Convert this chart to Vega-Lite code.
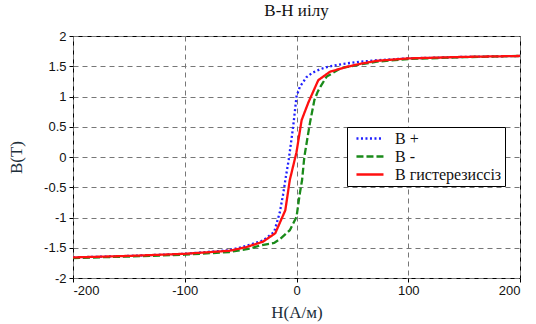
{
  "$schema": "https://vega.github.io/schema/vega-lite/v6.json",
  "width": 447,
  "height": 242,
  "autosize": "none",
  "padding": {"left": 73, "top": 36, "right": 16, "bottom": 46},
  "background": "white",
  "title": {"text": "B-H иілу", "font": "Liberation Serif", "fontSize": 17, "fontWeight": "normal", "color": "#111", "offset": 10},
  "config": {
    "view": {"stroke": "#000", "strokeWidth": 1},
    "axis": {
      "labelFont": "Liberation Sans", "labelFontSize": 13, "labelColor": "#111",
      "titleFont": "Liberation Serif", "titleFontSize": 17, "titleFontWeight": "normal", "titleColor": "#1c2e3a",
      "gridColor": "#777", "gridDash": [5, 4], "gridWidth": 1, "gridOpacity": 1,
      "domain": false, "tickColor": "#000", "tickSize": 4
    }
  },
  "data": {"values": [
    {"s": "B +", "H": -200, "B": -1.66},
    {"s": "B +", "H": -150, "B": -1.635},
    {"s": "B +", "H": -100, "B": -1.6},
    {"s": "B +", "H": -60, "B": -1.54},
    {"s": "B +", "H": -45, "B": -1.47},
    {"s": "B +", "H": -30, "B": -1.38},
    {"s": "B +", "H": -20, "B": -1.24},
    {"s": "B +", "H": -15, "B": -0.92},
    {"s": "B +", "H": -12, "B": -0.62},
    {"s": "B +", "H": -10, "B": -0.38},
    {"s": "B +", "H": -7, "B": -0.05},
    {"s": "B +", "H": -3, "B": 0.5},
    {"s": "B +", "H": 0, "B": 1.0},
    {"s": "B +", "H": 3, "B": 1.16},
    {"s": "B +", "H": 9, "B": 1.32},
    {"s": "B +", "H": 14, "B": 1.39},
    {"s": "B +", "H": 21, "B": 1.45},
    {"s": "B +", "H": 28, "B": 1.49},
    {"s": "B +", "H": 36, "B": 1.52},
    {"s": "B +", "H": 42, "B": 1.54},
    {"s": "B +", "H": 57, "B": 1.575},
    {"s": "B +", "H": 72, "B": 1.6},
    {"s": "B +", "H": 100, "B": 1.63},
    {"s": "B +", "H": 150, "B": 1.655},
    {"s": "B +", "H": 200, "B": 1.67},
    {"s": "B -", "H": -200, "B": -1.67},
    {"s": "B -", "H": -150, "B": -1.645},
    {"s": "B -", "H": -100, "B": -1.615},
    {"s": "B -", "H": -60, "B": -1.57},
    {"s": "B -", "H": -42, "B": -1.515},
    {"s": "B -", "H": -33, "B": -1.465},
    {"s": "B -", "H": -20, "B": -1.42},
    {"s": "B -", "H": -15, "B": -1.36},
    {"s": "B -", "H": -6, "B": -1.21},
    {"s": "B -", "H": 0, "B": -0.99},
    {"s": "B -", "H": 3, "B": -0.6},
    {"s": "B -", "H": 5, "B": -0.38},
    {"s": "B -", "H": 7, "B": 0.0},
    {"s": "B -", "H": 12, "B": 0.56},
    {"s": "B -", "H": 16, "B": 0.94},
    {"s": "B -", "H": 19, "B": 1.08},
    {"s": "B -", "H": 22, "B": 1.18},
    {"s": "B -", "H": 27, "B": 1.33},
    {"s": "B -", "H": 40, "B": 1.47},
    {"s": "B -", "H": 57, "B": 1.53},
    {"s": "B -", "H": 72, "B": 1.575},
    {"s": "B -", "H": 100, "B": 1.62},
    {"s": "B -", "H": 150, "B": 1.65},
    {"s": "B -", "H": 200, "B": 1.67},
    {"s": "B гистерезиссіз", "H": -200, "B": -1.66},
    {"s": "B гистерезиссіз", "H": -150, "B": -1.635},
    {"s": "B гистерезиссіз", "H": -100, "B": -1.6},
    {"s": "B гистерезиссіз", "H": -60, "B": -1.55},
    {"s": "B гистерезиссіз", "H": -45, "B": -1.49},
    {"s": "B гистерезиссіз", "H": -30, "B": -1.4},
    {"s": "B гистерезиссіз", "H": -19, "B": -1.26},
    {"s": "B гистерезиссіз", "H": -10, "B": -0.88},
    {"s": "B гистерезиссіз", "H": -6, "B": -0.38},
    {"s": "B гистерезиссіз", "H": 0, "B": 0.08},
    {"s": "B гистерезиссіз", "H": 4.6, "B": 0.61},
    {"s": "B гистерезиссіз", "H": 10.6, "B": 0.9},
    {"s": "B гистерезиссіз", "H": 19.5, "B": 1.27},
    {"s": "B гистерезиссіз", "H": 30, "B": 1.41},
    {"s": "B гистерезиссіз", "H": 45, "B": 1.49},
    {"s": "B гистерезиссіз", "H": 57, "B": 1.54},
    {"s": "B гистерезиссіз", "H": 72, "B": 1.59},
    {"s": "B гистерезиссіз", "H": 100, "B": 1.63},
    {"s": "B гистерезиссіз", "H": 150, "B": 1.655},
    {"s": "B гистерезиссіз", "H": 200, "B": 1.67}
  ]},
  "mark": {"type": "line", "strokeWidth": 2.3, "clip": true},
  "encoding": {
    "x": {"field": "H", "type": "quantitative",
      "scale": {"domain": [-200, 200], "nice": false},
      "axis": {"title": "H(A/м)", "values": [-200, -100, 0, 100, 200], "labelExpr": "'' + datum.value", "titlePadding": 7, "labelPadding": 2}},
    "y": {"field": "B", "type": "quantitative",
      "scale": {"domain": [-2, 2], "nice": false},
      "axis": {"title": "B(T)", "values": [-2, -1.5, -1, -0.5, 0, 0.5, 1, 1.5, 2], "labelExpr": "'' + datum.value", "titlePadding": 18, "labelPadding": 3}},
    "color": {"field": "s", "type": "nominal",
      "scale": {"domain": ["B +", "B -", "B гистерезиссіз"], "range": ["#1f1fff", "#1a8a1a", "#ff1010"]},
      "legend": {"title": null, "orient": "none", "legendX": 274, "legendY": 91,
        "strokeColor": "#000", "fillColor": "white", "padding": 3,
        "labelFont": "Liberation Serif", "labelFontSize": 16, "labelColor": "#111",
        "labelExpr": "length(datum.label) > 4 ? datum.label + '\u00a0\u00a0\u00a0\u00a0' : datum.label",
        "symbolType": "M-0.29,0H3.57", "symbolSize": 196, "symbolStrokeWidth": 2.5,
        "rowPadding": 1, "labelOffset": 28, "labelLimit": 250}},
    "strokeDash": {"field": "s", "type": "nominal",
      "scale": {"domain": ["B +", "B -", "B гистерезиссіз"], "range": [[2, 2.5], [7, 3], [1, 0]]},
      "legend": null}
  }
}
